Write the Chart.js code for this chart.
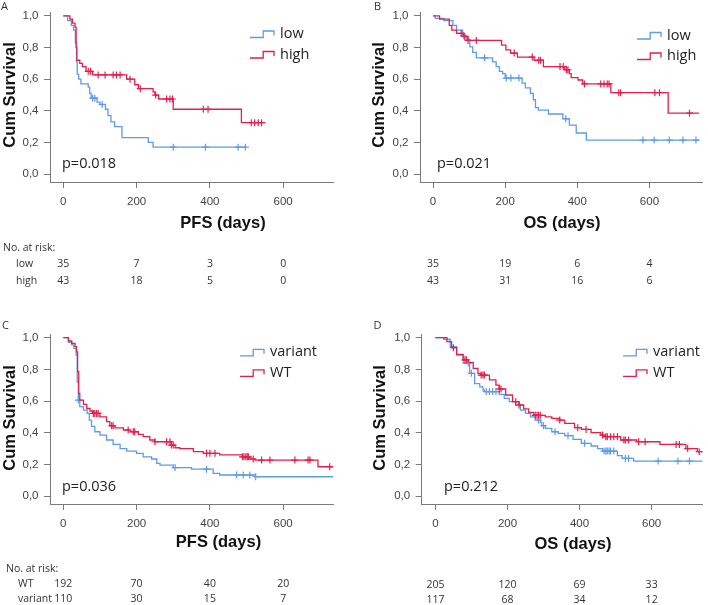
<!DOCTYPE html>
<html>
<head>
<meta charset="utf-8">
<script src="https://cdn.jsdelivr.net/npm/chart.js@4.4.1/dist/chart.umd.min.js"></script>
<style>
  body { margin: 0; background: #fff; }
  #wrap { position: relative; width: 708px; height: 605px; overflow: hidden; }
  canvas { position: absolute; }
</style>
</head>
<body>
<div id="wrap">
  <canvas id="panelA" width="354" height="300" style="left:0;top:0"></canvas>
  <canvas id="panelB" width="354" height="300" style="left:354px;top:0"></canvas>
  <canvas id="panelC" width="354" height="305" style="left:0;top:300px"></canvas>
  <canvas id="panelD" width="354" height="305" style="left:354px;top:300px"></canvas>
</div>
<script>
// axis ticks
const xTicks = [0, 200, 400, 600];
const yTicks = [0, 0.2, 0.4, 0.6, 0.8, 1.0];
const riskTimes = [0, 200, 400, 600];

// A: PFS low / high  ([days, cum survival])
const pfsLowSteps = [[0,1],[12,0.97],[22,0.94],[28,0.91],[33,0.83],[36,0.71],[38,0.63],[42,0.60],[48,0.57],[68,0.55],[72,0.51],[76,0.48],[92,0.455],[100,0.44],[115,0.41],[122,0.37],[130,0.33],[140,0.30],[160,0.23],[232,0.20],[245,0.17],[497,0.17]];
const pfsLowCensored = [80, 86, 106, 300, 388, 477, 497];
const pfsHighSteps = [[0,1],[18,0.98],[25,0.955],[32,0.93],[35,0.80],[37,0.72],[45,0.70],[52,0.68],[62,0.65],[80,0.627],[173,0.60],[195,0.565],[205,0.54],[245,0.52],[250,0.50],[260,0.475],[300,0.41],[486,0.325],[541,0.325]];
const pfsHighCensored = [68, 74, 95, 114, 136, 145, 155, 182, 210, 252, 282, 291, 298, 382, 395, 513, 522, 532, 541];
const pfsLowRisk = [35, 7, 3, 0];
const pfsHighRisk = [43, 18, 5, 0];

// B: OS low / high
const osLowSteps = [[0,1],[6,0.985],[30,0.97],[55,0.94],[65,0.91],[82,0.875],[92,0.85],[102,0.805],[110,0.77],[120,0.735],[165,0.71],[175,0.68],[184,0.65],[193,0.635],[200,0.607],[247,0.575],[256,0.545],[270,0.51],[278,0.47],[284,0.42],[292,0.405],[320,0.38],[360,0.35],[378,0.31],[397,0.26],[425,0.215],[738,0.215]];
const osLowCensored = [85, 143, 203, 216, 238, 368, 582, 613, 655, 693, 729];
const osHighSteps = [[0,1],[18,0.98],[45,0.94],[52,0.91],[65,0.89],[84,0.87],[97,0.845],[190,0.815],[202,0.785],[215,0.765],[234,0.74],[280,0.72],[306,0.68],[365,0.66],[378,0.635],[383,0.61],[402,0.595],[415,0.57],[493,0.515],[652,0.385],[738,0.385]];
const osHighCensored = [78, 88, 97, 120, 225, 275, 293, 298, 352, 361, 370, 374, 420, 465, 474, 483, 488, 515, 520, 615, 628, 711];
const osLowRisk = [35, 19, 6, 4];
const osHighRisk = [43, 31, 16, 6];

// C: PFS variant / WT
const pfsVariantSteps = [[0,1],[14,0.97],[23,0.954],[29,0.933],[35,0.89],[38,0.72],[41,0.606],[45,0.565],[55,0.543],[65,0.522],[71,0.48],[77,0.44],[86,0.406],[100,0.385],[118,0.354],[136,0.326],[155,0.30],[173,0.284],[200,0.27],[218,0.248],[241,0.234],[255,0.206],[264,0.196],[300,0.18],[350,0.17],[409,0.143],[427,0.133],[523,0.122],[736,0.122]];
const pfsVariantCensored = [41, 305, 391, 473, 491, 509, 525];
const pfsWtSteps = [[0,1],[14,0.979],[23,0.964],[32,0.943],[36,0.91],[39,0.785],[42,0.648],[45,0.606],[55,0.579],[64,0.553],[73,0.537],[80,0.522],[100,0.50],[118,0.47],[127,0.444],[141,0.43],[164,0.417],[182,0.406],[205,0.39],[218,0.375],[236,0.354],[250,0.343],[295,0.322],[305,0.305],[318,0.30],[355,0.28],[382,0.27],[427,0.26],[489,0.248],[509,0.234],[523,0.227],[695,0.185],[736,0.185]];
const pfsWtCensored = [82, 86, 91, 95, 132, 136, 177, 191, 195, 250, 282, 291, 295, 300, 391, 400, 414, 489, 493, 498, 502, 505, 518, 541, 564, 632, 668, 673, 727];
const pfsWtRisk = [192, 70, 40, 20];
const pfsVariantRisk = [110, 30, 15, 7];

// D: OS variant / WT
const osVariantSteps = [[0,1],[23,0.99],[41,0.943],[59,0.89],[77,0.838],[95,0.775],[109,0.71],[123,0.69],[132,0.67],[136,0.66],[177,0.642],[191,0.617],[205,0.596],[223,0.575],[236,0.543],[250,0.522],[264,0.50],[277,0.48],[291,0.465],[295,0.444],[305,0.427],[323,0.406],[341,0.396],[359,0.381],[382,0.358],[405,0.333],[432,0.316],[450,0.30],[464,0.284],[505,0.255],[518,0.238],[550,0.221],[741,0.221]];
const osVariantCensored = [91, 100, 141, 150, 159, 168, 286, 300, 332, 368, 414, 468, 473, 477, 482, 486, 495, 527, 536, 618, 673, 705];
const osWtSteps = [[0,1],[32,0.975],[45,0.937],[59,0.895],[77,0.86],[91,0.844],[105,0.806],[118,0.775],[127,0.764],[150,0.733],[168,0.70],[177,0.676],[195,0.638],[214,0.596],[232,0.575],[245,0.55],[259,0.528],[273,0.51],[305,0.50],[323,0.49],[345,0.48],[359,0.459],[386,0.432],[405,0.421],[432,0.40],[459,0.385],[468,0.375],[514,0.354],[559,0.343],[623,0.326],[695,0.30],[727,0.28],[741,0.28]];
const osWtCensored = [50, 82, 86, 127, 132, 136, 177, 182, 223, 232, 277, 282, 286, 291, 345, 395, 418, 464, 473, 477, 486, 495, 505, 523, 527, 536, 564, 582, 668, 677, 700, 732];
const osWtRisk = [205, 120, 69, 33];
const osVariantRisk = [117, 68, 34, 12];

const BLUE = '#5d9ce8';
const RED = '#e2204c';
const AXIS = '#7a7a7a';

// value of the step curve at time t
function survivalAt(steps, t) {
    let s = steps[0][1];
    for (const p of steps) {
        if (p[0] <= t) s = p[1];
    }
    return s;
}

function stepSet(steps, color) {
    return {
        data: steps.map(p => ({ x: p[0], y: p[1] })),
        borderColor: color,
        borderWidth: 1.3,
        stepped: true,
        pointRadius: 0,
        fill: false
    };
}

function censorSet(steps, times, color) {
    return {
        data: times.map(t => ({ x: t, y: survivalAt(steps, t) })),
        showLine: false,
        pointStyle: 'cross',
        pointRadius: 3.5,
        borderColor: color,
        borderWidth: 1.2
    };
}

// texts, legend and numbers at risk
function panelText(p) {
    return {
        id: 'panelText',
        afterDraw(chart) {
            const ctx = chart.ctx;
            const x = chart.scales.x;
            ctx.save();
            ctx.fillStyle = '#333';
            ctx.textBaseline = 'middle';

            ctx.font = '11px "Open Sans"';
            ctx.textAlign = 'left';
            ctx.fillText(p.letter, p.letterX, p.letterY);

            ctx.fillStyle = '#111';
            ctx.font = 'bold 16.5px "Liberation Sans"';
            ctx.textAlign = 'center';
            ctx.fillText(p.xTitle, p.xTitleX, p.xTitleY);
            ctx.save();
            ctx.translate(p.yTitleX, p.yTitleY);
            ctx.rotate(-Math.PI / 2);
            ctx.fillText('Cum Survival', 0, 0);
            ctx.restore();

            ctx.fillStyle = '#222';
            ctx.font = '14.5px "Open Sans"';
            ctx.textAlign = 'left';
            ctx.fillText(p.pValue, p.pX, p.pY);

            // legend with step icon
            p.legend.forEach((item, i) => {
                const yc = p.legendY + i * 20.5;
                const x0 = p.legendX, w = 24;
                ctx.strokeStyle = item.color;
                ctx.lineWidth = 1.3;
                ctx.beginPath();
                ctx.moveTo(x0, yc + 3.5);
                ctx.lineTo(x0 + w * 0.55, yc + 3.5);
                ctx.lineTo(x0 + w * 0.55, yc - 3);
                ctx.lineTo(x0 + w, yc - 3);
                ctx.lineTo(x0 + w, yc + 1.5);
                ctx.stroke();
                ctx.fillStyle = '#222';
                ctx.fillText(item.label, x0 + w + 6, yc);
            });

            // numbers at risk
            ctx.fillStyle = '#333';
            ctx.font = '10.5px "Open Sans"';
            if (p.riskTitle) {
                ctx.textAlign = 'left';
                ctx.fillText('No. at risk:', p.riskTitleX, p.riskTitleY);
            }
            p.rows.forEach((row, i) => {
                const y = p.riskRowsY[i];
                if (row.label) {
                    ctx.textAlign = 'left';
                    ctx.fillText(row.label, p.riskLabelX, y);
                }
                ctx.textAlign = 'center';
                row.values.forEach((v, j) => {
                    ctx.fillText(String(v), x.getPixelForValue(riskTimes[j]), y);
                });
            });
            ctx.restore();
        }
    };
}

function makePanel(id, p) {
    const canvas = document.getElementById(id);
    const H = canvas.height;
    new Chart(canvas, {
        type: 'line',
        data: {
            datasets: [
                censorSet(p.red.steps, p.red.censored, RED),
                stepSet(p.red.steps, RED),
                censorSet(p.blue.steps, p.blue.censored, BLUE),
                stepSet(p.blue.steps, BLUE)
            ]
        },
        options: {
            responsive: false,
            animation: false,
            devicePixelRatio: 1,
            layout: { padding: { left: 0, top: p.area.top, right: p.area.right, bottom: 0 } },
            plugins: { legend: { display: false }, tooltip: { enabled: false } },
            scales: {
                x: {
                    type: 'linear',
                    min: p.xMin,
                    max: p.xMax,
                    afterBuildTicks: s => { s.ticks = xTicks.map(v => ({ value: v })); },
                    afterFit: s => { s.height = H - p.area.bottom; },
                    grid: { drawOnChartArea: false, drawTicks: true, tickLength: 6, color: AXIS },
                    border: { display: true, color: AXIS, width: 1 },
                    ticks: { color: '#444', padding: 7, maxRotation: 0, font: { family: 'Liberation Sans', size: 11.5 } }
                },
                y: {
                    type: 'linear',
                    min: -0.05,
                    max: 1.02,
                    afterBuildTicks: s => { s.ticks = yTicks.map(v => ({ value: v })); },
                    afterFit: s => { s.width = p.area.left; },
                    grid: { drawOnChartArea: false, drawTicks: true, tickLength: 6, color: AXIS },
                    border: { display: true, color: AXIS, width: 1 },
                    ticks: {
                        color: '#444',
                        padding: 5.5,
                        font: { family: 'Liberation Sans', size: 11.5 },
                        callback: v => v.toFixed(1).replace('.', ',')
                    }
                }
            }
        },
        plugins: [panelText(p)]
    });
}

makePanel('panelA', {
    letter: 'A', letterX: 1, letterY: 7,
    xTitle: 'PFS (days)', xTitleX: 223, xTitleY: 223,
    yTitleX: 10.5, yTitleY: 95,
    pValue: 'p=0.018', pX: 62, pY: 164,
    legendX: 250, legendY: 34,
    legend: [{ label: 'low', color: BLUE }, { label: 'high', color: RED }],
    area: { left: 50, right: 21, top: 12.8, bottom: 182 },
    xMin: -36.3, xMax: 736,
    blue: { steps: pfsLowSteps, censored: pfsLowCensored },
    red: { steps: pfsHighSteps, censored: pfsHighCensored },
    riskTitle: true, riskTitleX: 3, riskTitleY: 248,
    riskLabelX: 16, riskRowsY: [264, 281],
    rows: [{ label: 'low', values: pfsLowRisk }, { label: 'high', values: pfsHighRisk }]
});

makePanel('panelB', {
    letter: 'B', letterX: 20, letterY: 7,
    xTitle: 'OS (days)', xTitleX: 208, xTitleY: 223,
    yTitleX: 25.5, yTitleY: 95,
    pValue: 'p=0.021', pX: 83, pY: 164,
    legendX: 283, legendY: 35.5,
    legend: [{ label: 'low', color: BLUE }, { label: 'high', color: RED }],
    area: { left: 66, right: 0, top: 12.8, bottom: 182 },
    xMin: -36.2, xMax: 748,
    blue: { steps: osLowSteps, censored: osLowCensored },
    red: { steps: osHighSteps, censored: osHighCensored },
    riskTitle: false,
    riskRowsY: [264, 281],
    rows: [{ values: osLowRisk }, { values: osHighRisk }]
});

makePanel('panelC', {
    letter: 'C', letterX: 2, letterY: 26,
    xTitle: 'PFS (days)', xTitleX: 218.5, xTitleY: 242.5,
    yTitleX: 10.5, yTitleY: 118,
    pValue: 'p=0.036', pX: 62, pY: 186.7,
    legendX: 240, legendY: 52.3,
    legend: [{ label: 'variant', color: BLUE }, { label: 'WT', color: RED }],
    area: { left: 50, right: 21, top: 34.5, bottom: 204 },
    xMin: -36.3, xMax: 736,
    blue: { steps: pfsVariantSteps, censored: pfsVariantCensored },
    red: { steps: pfsWtSteps, censored: pfsWtCensored },
    riskTitle: true, riskTitleX: 6, riskTitleY: 269,
    riskLabelX: 18, riskRowsY: [284, 299],
    rows: [{ label: 'WT', values: pfsWtRisk }, { label: 'variant', values: pfsVariantRisk }]
});

makePanel('panelD', {
    letter: 'D', letterX: 19.5, letterY: 26,
    xTitle: 'OS (days)', xTitleX: 219, xTitleY: 244,
    yTitleX: 26.5, yTitleY: 118,
    pValue: 'p=0.212', pX: 90, pY: 186.7,
    legendX: 269, legendY: 52.3,
    legend: [{ label: 'variant', color: BLUE }, { label: 'WT', color: RED }],
    area: { left: 67.7, right: 0, top: 34.5, bottom: 204 },
    xMin: -38, xMax: 742,
    blue: { steps: osVariantSteps, censored: osVariantCensored },
    red: { steps: osWtSteps, censored: osWtCensored },
    riskTitle: false,
    riskRowsY: [285, 300],
    rows: [{ values: osWtRisk }, { values: osVariantRisk }]
});
</script>
</body>
</html>
